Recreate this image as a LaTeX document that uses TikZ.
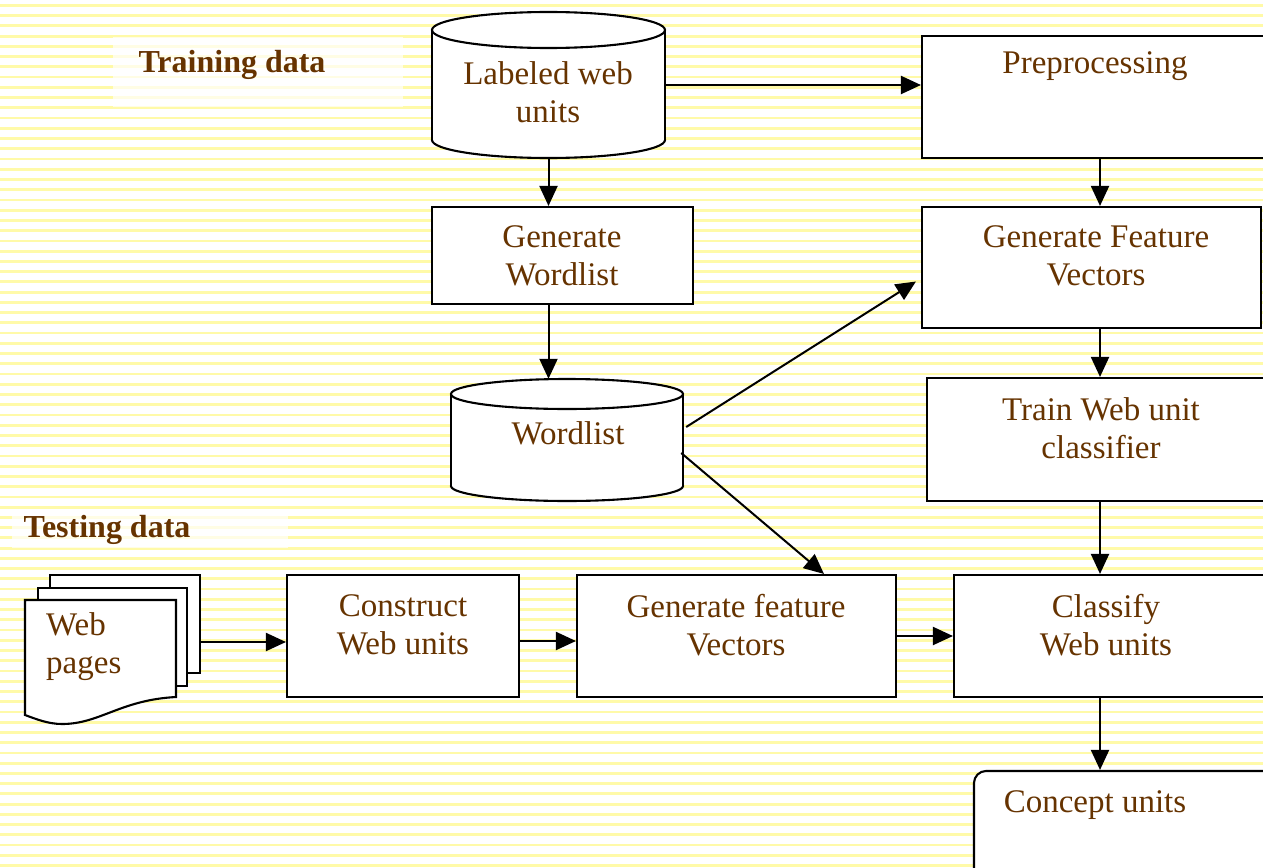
\documentclass[tikz,border=0pt]{standalone}
\usepackage{fontspec}
\setmainfont{Liberation Serif}
\usetikzlibrary{arrows.meta,calc}
\definecolor{ink}{HTML}{663300}
\definecolor{stripe}{RGB}{255,250,168}
\tikzset{
  box/.style={draw=black, line width=2.1pt, fill=white, inner sep=0pt},
  ghost/.style={draw=none, inner sep=0pt},
  txt/.style={text=ink, align=center, inner sep=0pt, font=\fontsize{33}{38}\selectfont},
  head/.style={text=ink, inner sep=0pt, font=\fontsize{32}{36}\selectfont\bfseries},
  arr/.style={draw=black, line width=2pt, -{Triangle[length=20pt,width=18pt]}},
  cyl/.style={draw=black, line width=2.1pt, fill=white},
}
\begin{document}
\begin{tikzpicture}[x=1pt, y=-1pt]
\useasboundingbox (0,0) rectangle (1263,867);
\clip (0,0) rectangle (1263,867);
% ruled paper background
\fill[white] (0,0) rectangle (1263,867);
\foreach \i in {0,...,85} {
  \fill[stripe] (0,{4+\i*10.24}) rectangle (1263,{6.8+\i*10.24});
}
% soft panels behind the section headings
\fill[white, opacity=0.7] (113,37) rectangle (403,107);
\fill[white, opacity=0.7] (12,515) rectangle (288,548);
\node[head] (trainhead) at (232,65) {Training data};
\node[head] (testhead) at (107,530) {Testing data};

% cylinder: labeled web units
\node[ghost, minimum width=233pt, minimum height=146pt] (lab) at (548.5,85) {};
\draw[cyl] (548.5,140) ellipse [x radius=116.5, y radius=18];
\fill[white] (432,30) rectangle (665,140);
\draw[line width=2.1pt] (432,30) -- (432,140) (665,30) -- (665,140);
\draw[cyl] (548.5,30) ellipse [x radius=116.5, y radius=18];
\node[txt] (labt) at (548,92) {Labeled web\\units};

% cylinder: wordlist
\node[ghost, minimum width=232pt, minimum height=122pt] (wl) at (567,440) {};
\draw[cyl] (567,486) ellipse [x radius=116, y radius=15];
\fill[white] (451,394) rectangle (683,486);
\draw[line width=2.1pt] (451,394) -- (451,486) (683,394) -- (683,486);
\draw[cyl] (567,394) ellipse [x radius=116, y radius=15];
\node[txt] (wlt) at (568,433) {Wordlist};

% process boxes
\node[box, minimum width=356pt, minimum height=122pt] (pre) at (1100,97) {};
\node[txt] (pret) at (1095,66) {Preprocessing};
\node[box, minimum width=261pt, minimum height=97pt] (gwl) at (562.5,255.5) {};
\node[txt] (gwlt) at (562,256) {Generate\\Wordlist};
\node[box, minimum width=339pt, minimum height=121pt] (gfv) at (1091.5,267.5) {};
\node[txt] (gfvt) at (1096,256) {Generate Feature\\Vectors};
\node[box, minimum width=353pt, minimum height=123pt] (trn) at (1103.5,439.5) {};
\node[txt] (trnt) at (1101,428) {Train Web unit\\classifier};
\node[box, minimum width=232pt, minimum height=122pt] (con) at (403,636) {};
\node[txt] (cont) at (403,625) {Construct\\Web units};
\node[box, minimum width=319pt, minimum height=122pt] (gfv2) at (736.5,636) {};
\node[txt] (gfv2t) at (736,625) {Generate feature\\Vectors};
\node[box, minimum width=326pt, minimum height=122pt] (cls) at (1117,636) {};
\node[txt] (clst) at (1106,625) {Classify\\Web units};
\node[box, rounded corners=12pt, minimum width=306pt, minimum height=119pt] (cpt) at (1127,830.5) {};
\node[txt] (cptt) at (1095,805) {Concept units};

% stacked web pages
\node[ghost, minimum width=175pt, minimum height=148pt] (wp) at (112.5,649) {};
\draw[box] (50,575) rectangle (200,673);
\draw[box] (38,588) rectangle (187,686);
\draw[box] (25,600) -- (176,600) -- (176,697)
  .. controls (120,700) and (100,724) .. (62,724)
  .. controls (48,724) and (36,719) .. (25,715) -- cycle;
\node[txt, align=left, anchor=west] (wpt) at (46,647) {Web\\pages};

% connectors
\coordinate (colx) at (1100,0);
\draw[arr] (lab.east) -- (lab.east -| pre.west);
\draw[arr] (lab.south) -- (lab.south |- gwl.north);
\draw[arr] (gwl.south -| lab.south) -- (wl.north -| lab.south);
\draw[arr] (pre.south -| colx) -- (gfv.north -| colx);
\draw[arr] (gfv.south -| colx) -- (trn.north -| colx);
\draw[arr] (trn.south -| colx) -- (cls.north -| colx);
\draw[arr] (cls.south -| colx) -- (cpt.north -| colx);
\draw[arr] ([xshift=3pt,yshift=13pt]wl.east) -- ([xshift=-5pt,yshift=-14pt]gfv.west);
\draw[arr] ([xshift=-2pt,yshift=-13pt]wl.east) -- ([xshift=87.5pt]gfv2.north);
\draw[arr] ([yshift=7pt]wp.east) -- ([yshift=-6pt]con.west);
\draw[arr] ([yshift=-5pt]con.east) -- ([yshift=-5pt]gfv2.west);
\draw[arr] (gfv2.east) -- (cls.west);
\end{tikzpicture}
\end{document}
